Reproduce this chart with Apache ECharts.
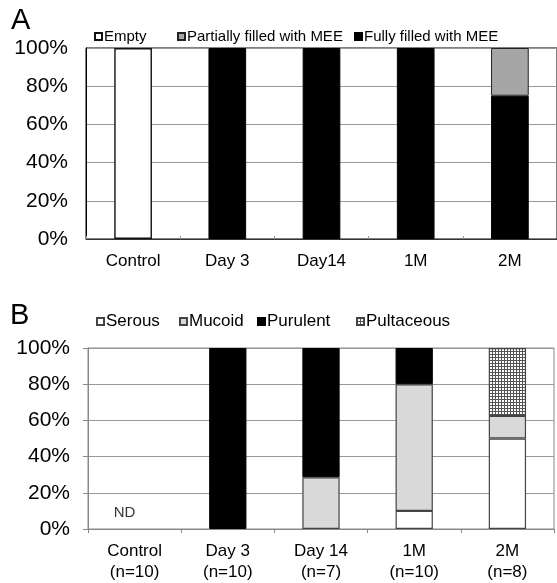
<!DOCTYPE html>
<html>
<head>
<meta charset="utf-8">
<script src="https://cdn.jsdelivr.net/npm/echarts@6/dist/echarts.min.js"></script>
<style>
html,body{margin:0;padding:0;background:#fff;}
#chart{width:557px;height:583px;}
</style>
</head>
<body>
<div id="chart"></div>
<script>
// ---- Data ----
var categoriesA = ['Control', 'Day 3', 'Day14', '1M', '2M'];
var emptyA = [100, 0, 0, 0, 0];
var partialA = [0, 0, 0, 0, 25];
var fullyA = [0, 100, 100, 100, 75];

var categoriesB = ['Control', 'Day 3', 'Day 14', '1M', '2M'];
var countsB = [10, 10, 7, 10, 8];
var serousB = [0, 0, 0, 10, 50];
var mucoidB = [0, 0, 28.6, 70, 12.5];
var purulentB = [0, 100, 71.4, 20, 0];
var pultaceousB = [0, 0, 0, 0, 37.5];
var ndCategory = 'Control';
var ndValue = 9;

var yTicks = [0, 20, 40, 60, 80, 100];

// ---- helpers ----
function clean(arr) { return arr.map(function (v) { return v === 0 ? '-' : v; }); }

var pat = document.createElement('canvas');
pat.width = 3; pat.height = 3;
var pc = pat.getContext('2d');
pc.fillStyle = '#ffffff'; pc.fillRect(0, 0, 3, 3);
pc.fillStyle = '#555555';
pc.fillRect(0, 0, 3, 1);
pc.fillRect(0, 0, 1, 3);

var font = 'Liberation Sans, Arial, Helvetica, sans-serif';

function yAxis(gi, lineColor, tickShow) {
  return {
    type: 'value', gridIndex: gi, min: yTicks[0], max: yTicks[yTicks.length - 1], interval: 20,
    axisLine: { show: true, lineStyle: { color: lineColor, width: 1 } },
    axisTick: { show: tickShow, length: 5, lineStyle: { color: '#888' } },
    splitLine: { show: true, lineStyle: { color: '#999', width: 1 } },
    axisLabel: { formatter: '{value}%', fontSize: 21, color: '#000', fontFamily: font, margin: 18, padding: [5, 0, 0, 0] }
  };
}

var chart = echarts.init(document.getElementById('chart'), null, { renderer: 'canvas' });

function legendItem(name, left, top, size) {
  return {
    data: [name], left: left, top: top, padding: 0, orient: 'horizontal',
    icon: 'rect', itemWidth: 7, itemHeight: 7, selectedMode: false,
    textStyle: { fontSize: size, color: '#000', fontFamily: font, padding: [0, 0, 0, -3] }
  };
}

var option = {
  backgroundColor: '#fff',
  animation: false,
  title: [
    { text: 'A', left: 11, top: 6, padding: 0, textStyle: { fontSize: 29, fontWeight: 'normal', color: '#000', fontFamily: font } },
    { text: 'B', left: 10, top: 301, padding: 0, textStyle: { fontSize: 29, fontWeight: 'normal', color: '#000', fontFamily: font } }
  ],
  legend: [
    legendItem('Empty', 94, 29, 15),
    legendItem('Partially filled with MEE', 177, 29, 15),
    legendItem('Fully filled with MEE', 354, 29, 15),
    legendItem('Serous', 96, 313, 17),
    legendItem('Mucoid', 179, 313, 17),
    legendItem('Purulent', 257, 313, 17),
    legendItem('Pultaceous', 356, 313, 17)
  ],
  grid: [
    { left: 86, top: 48, width: 473, height: 191, show: true, borderColor: '#000', borderWidth: 1, backgroundColor: 'transparent' },
    { left: 88, top: 348, width: 466, height: 183, show: true, borderColor: '#888', borderWidth: 1, backgroundColor: 'transparent' }
  ],
  xAxis: [
    {
      type: 'category', gridIndex: 0, data: categoriesA,
      axisLine: { lineStyle: { color: '#333', width: 1 } },
      axisTick: { show: true, inside: true, length: 3, lineStyle: { color: '#999' } },
      axisLabel: { fontSize: 17, color: '#000', fontFamily: font, margin: 14 }
    },
    {
      type: 'category', gridIndex: 1, data: categoriesB,
      axisLine: { lineStyle: { color: '#888', width: 1 } },
      axisTick: { show: true, length: 4, lineStyle: { color: '#888' } },
      axisLabel: {
        fontSize: 17, color: '#000', fontFamily: font, margin: 12, lineHeight: 21,
        formatter: function (v, i) { return v + '\n(n=' + countsB[i] + ')'; }
      }
    }
  ],
  yAxis: [yAxis(0, '#000', false), yAxis(1, '#888', true)],
  series: [
    { name: 'Fully filled with MEE', type: 'bar', stack: 'a', xAxisIndex: 0, yAxisIndex: 0, barWidth: '40%',
      data: clean(fullyA), itemStyle: { color: '#000', borderColor: '#000', borderWidth: 1 } },
    { name: 'Partially filled with MEE', type: 'bar', stack: 'a', xAxisIndex: 0, yAxisIndex: 0, barWidth: '40%',
      data: clean(partialA), itemStyle: { color: '#a6a6a6', borderColor: '#222', borderWidth: 1 } },
    { name: 'Empty', type: 'bar', stack: 'a', xAxisIndex: 0, yAxisIndex: 0, barWidth: '40%',
      data: clean(emptyA), itemStyle: { color: '#fff', borderColor: '#111', borderWidth: 1.4 } },

    { name: 'Serous', type: 'bar', stack: 'b', xAxisIndex: 1, yAxisIndex: 1, barWidth: '40%',
      data: clean(serousB), itemStyle: { color: '#fff', borderColor: '#444', borderWidth: 1.2 } },
    { name: 'Mucoid', type: 'bar', stack: 'b', xAxisIndex: 1, yAxisIndex: 1, barWidth: '40%',
      data: clean(mucoidB), itemStyle: { color: '#d9d9d9', borderColor: '#444', borderWidth: 1.2 } },
    { name: 'Purulent', type: 'bar', stack: 'b', xAxisIndex: 1, yAxisIndex: 1, barWidth: '40%',
      data: clean(purulentB), itemStyle: { color: '#000', borderColor: '#000', borderWidth: 1 } },
    { name: 'Pultaceous', type: 'bar', stack: 'b', xAxisIndex: 1, yAxisIndex: 1, barWidth: '40%',
      data: clean(pultaceousB), itemStyle: { color: { image: pat, repeat: 'repeat' }, borderColor: '#444', borderWidth: 1.2 } },
    { name: 'ND', type: 'scatter', xAxisIndex: 1, yAxisIndex: 1, symbolSize: 0, silent: true,
      data: [[ndCategory, ndValue]],
      label: { show: true, position: 'inside', formatter: 'ND', offset: [-10, 0], fontSize: 15, color: '#000', fontFamily: font } }
  ]
};
chart.setOption(option);
</script>
</body>
</html>
